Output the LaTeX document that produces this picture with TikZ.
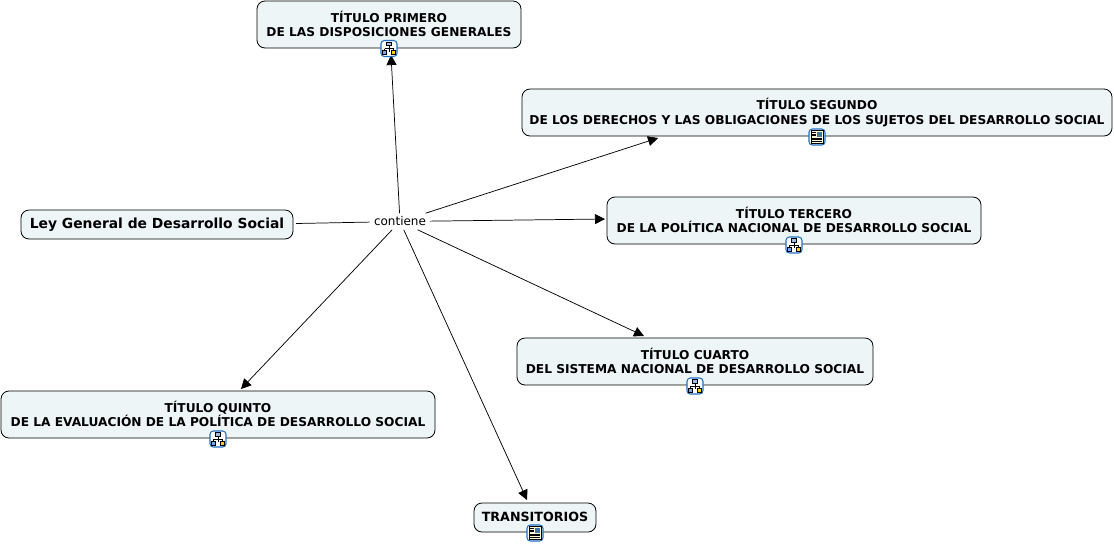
\documentclass[tikz,border=0pt]{standalone}
\usepackage{fontspec}
\setmainfont{DejaVu Sans}
\usetikzlibrary{arrows.meta}
\definecolor{boxfill}{HTML}{EDF5F7}
\definecolor{iconblue}{HTML}{1F6FC4}
\newcommand{\boxfont}{\fontsize{9.15}{10.6}\selectfont\bfseries}
\tikzset{
  px/.style={x=0.75pt,y=-0.75pt},
  concept/.style={draw=black,fill=boxfill,rounded corners=6pt,line width=0.6pt,align=center,inner sep=0pt,font=\boxfont},
  link/.style={fill=white,inner sep=0pt,font=\fontsize{9}{11}\selectfont,minimum width=45pt,minimum height=12pt},
  conn/.style={line width=0.55pt,draw=black},
  arr/.style={conn,-{Triangle[length=7.5pt,width=7.5pt]}},
  icoframe/.style={draw=iconblue,fill=white,rounded corners=2.5pt,line width=0.8pt},
  pics/hierico/.style={code={
    \draw[icoframe] (-8,-8) rectangle (8,8);
    \draw[line width=0.45pt,black] (0,-3) -- (0,3) (-4.5,0) -- (4.5,0) (-4.5,0) -- (-4.5,2) (4.5,0) -- (4.5,2);
    \draw[line width=0.45pt,fill=iconblue!45] (-2.5,-6.5) rectangle (2.5,-3);
    \draw[line width=0.45pt,fill=iconblue!60] (-6.5,2) rectangle (-2.5,6);
    \draw[line width=0.45pt,fill=yellow!70!orange] (2.5,2) rectangle (6.5,6);
  }},
  pics/docico/.style={code={
    \draw[icoframe] (-8,-8) rectangle (8,8);
    \draw[line width=0.6pt,fill=yellow!18] (-6,-6.5) rectangle (6,6.5);
    \fill[iconblue!60!gray] (0,-5) rectangle (5,-0.5);
    \draw[line width=0.45pt] (-5,-4.5) -- (-1,-4.5) (-5,-3) -- (-1,-3) (-5,-1.5) -- (-1,-1.5)
      (-5,0.8) -- (5,0.8) (-5,2.4) -- (5,2.4) (-5,4) -- (5,4);
  }}
}
\begin{document}
\begin{tikzpicture}[px]
\useasboundingbox (0,0) rectangle (1114,544);
\node[concept,minimum width=198pt,minimum height=35.25pt] (t1) at (389,24.5) {\raisebox{0.8pt}{TÍTULO PRIMERO}\\\raisebox{0.8pt}{DE LAS DISPOSICIONES GENERALES}};
\node[concept,minimum width=442.5pt,minimum height=35.25pt] (t2) at (817,112.5) {\raisebox{0.8pt}{TÍTULO SEGUNDO}\\\raisebox{0.8pt}{DE LOS DERECHOS Y LAS OBLIGACIONES DE LOS SUJETOS DEL DESARROLLO SOCIAL}};
\node[concept,minimum width=280.5pt,minimum height=35.25pt] (t3) at (794,220.5) {\raisebox{0.8pt}{TÍTULO TERCERO}\\\raisebox{0.8pt}{DE LA POLÍTICA NACIONAL DE DESARROLLO SOCIAL}};
\node[concept,minimum width=267pt,minimum height=35.25pt] (t4) at (695,361.5) {\raisebox{0.8pt}{TÍTULO CUARTO}\\\raisebox{0.8pt}{DEL SISTEMA NACIONAL DE DESARROLLO SOCIAL}};
\node[concept,minimum width=325.5pt,minimum height=35.25pt] (t5) at (218,414.5) {\raisebox{0.8pt}{TÍTULO QUINTO}\\\raisebox{0.8pt}{DE LA EVALUACIÓN DE LA POLÍTICA DE DESARROLLO SOCIAL}};
\node[concept,minimum width=91.5pt,minimum height=21.75pt] (tr) at (535,517.5) {\raisebox{0.8pt}{\fontsize{9.5}{11}\selectfont TRANSITORIOS}};
\node[concept,minimum width=204pt,minimum height=21.75pt,font=\fontsize{10.4}{12}\selectfont\bfseries] (ley) at (157,224.5) {Ley General de Desarrollo Social};
\node[link] (c) at (400,221.5) {contiene};
\coordinate (e1) at (391,55);
\coordinate (e2) at (658,138);
\coordinate (e3) at (605,219);
\coordinate (e4) at (644,336);
\coordinate (e5) at (241,389);
\coordinate (e6) at (527,500);
\coordinate (e0) at (296,223.5);
\draw[conn] (c) -- (e0);
\draw[arr] (c) -- (e1);
\draw[arr] (c) -- (e2);
\draw[arr] (c) -- (e3);
\draw[arr] (c) -- (e4);
\draw[arr] (c) -- (e5);
\draw[arr] (c) -- (e6);
\pic at (389,48.5) {hierico};
\pic at (817,137) {docico};
\pic at (794,245) {hierico};
\pic at (695,386) {hierico};
\pic at (218,439) {hierico};
\pic at (535,533) {docico};
\end{tikzpicture}
\end{document}
